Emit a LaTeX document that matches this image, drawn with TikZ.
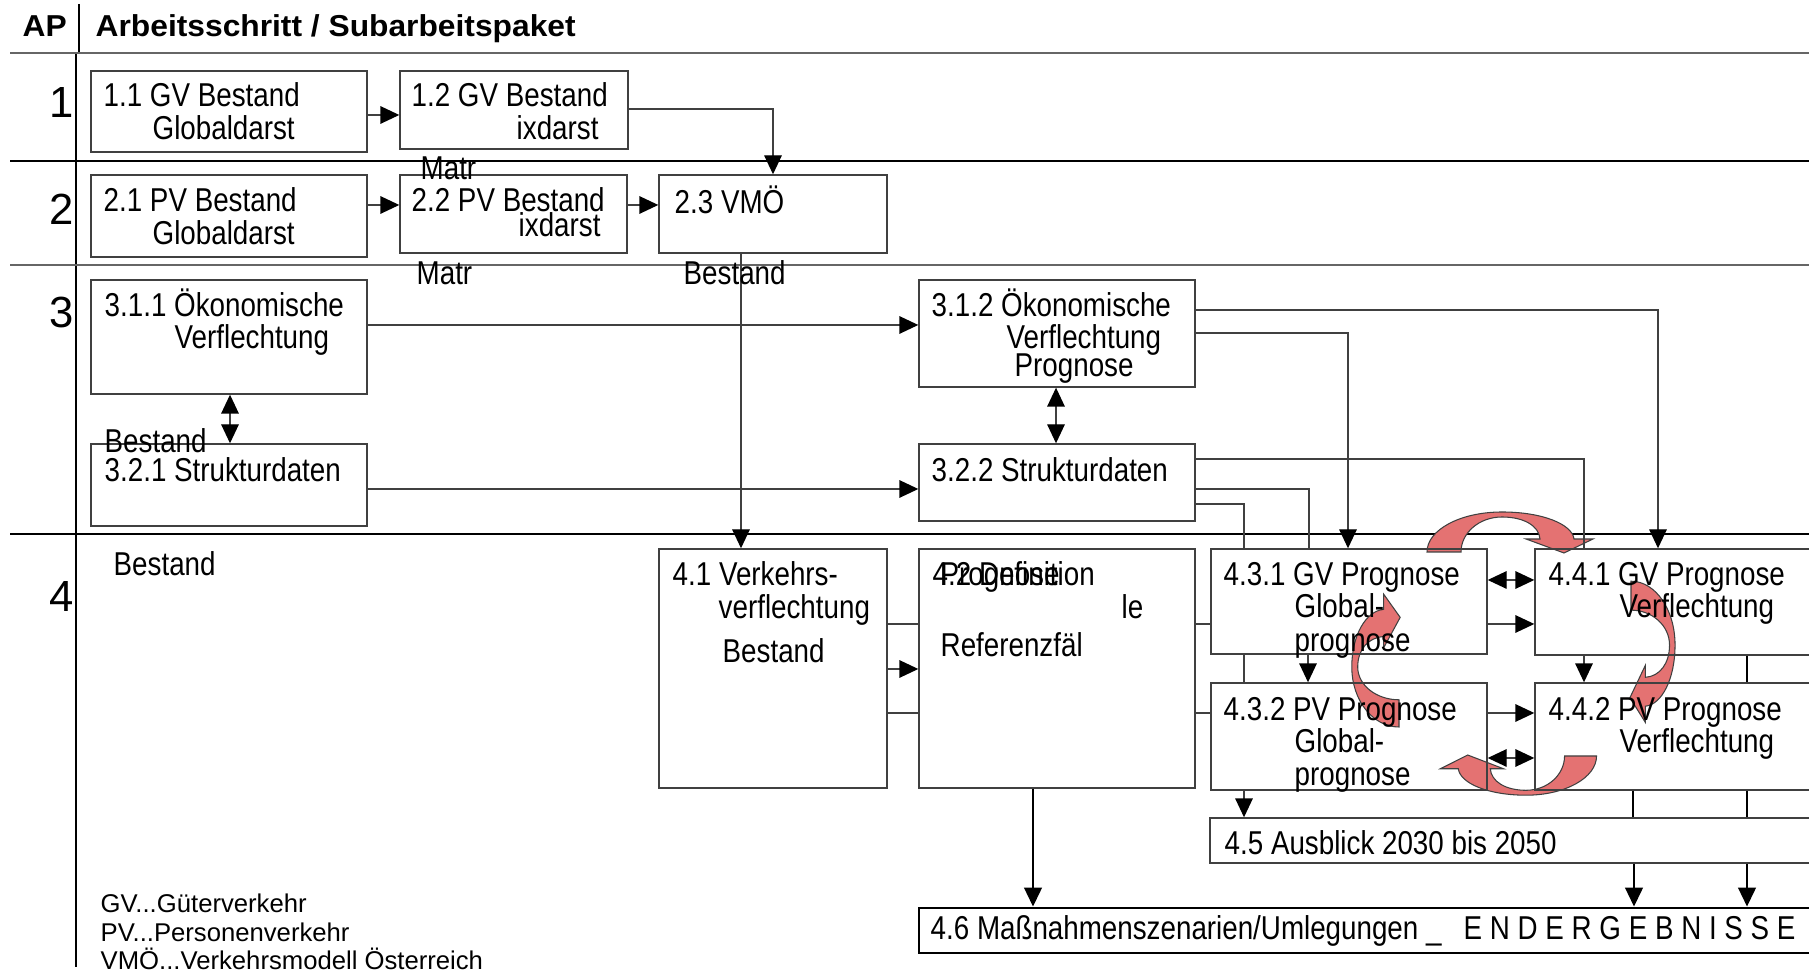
\documentclass[tikz,border=0pt]{standalone}
\usepackage{fontspec}
\setmainfont{Liberation Sans}
\newfontfamily\narrowfont[FakeStretch=0.84]{Liberation Sans}
\newfontfamily\headfont[FakeStretch=1.05]{Liberation Sans}
\usetikzlibrary{arrows.meta,fit}

\definecolor{cyclered}{RGB}{228,114,114}

\tikzstyle{box}=[draw=black!75,line width=0.4pt,inner sep=0pt]
\tikzstyle{endbox}=[box,draw=black,line width=0.8pt]
\tikzstyle{lbl}=[anchor=base west,inner sep=0pt,font=\narrowfont\fontsize{9.4}{10}\selectfont]
\tikzstyle{head}=[anchor=base west,inner sep=0pt,font=\headfont\bfseries\fontsize{8.6}{10}\selectfont]
\tikzstyle{num}=[anchor=base,inner sep=0pt,font=\fontsize{12.4}{14}\selectfont]
\tikzstyle{legend}=[anchor=base west,inner sep=0pt,font=\fontsize{7.3}{9}\selectfont]
\tikzstyle{rowline}=[draw=black,line width=0.4pt]
\tikzstyle{conn}=[draw=black!75,line width=0.4pt]
\tikzstyle{conn2}=[draw=black,line width=0.7pt]
\tikzstyle{arr}=[conn,-{Triangle[length=5.4pt,width=5pt,color=black]}]
\tikzstyle{arr2}=[conn2,-{Triangle[length=5.4pt,width=5pt,color=black]}]
\tikzstyle{darr}=[conn,{Triangle[length=5.4pt,width=5pt,color=black]}-{Triangle[length=5.4pt,width=5pt,color=black]}]

% one red curved arrow, tail left, head right pointing down
\newcommand{\cyclearrow}{%
  \filldraw[fill=cyclered,draw=black!75,line width=0.3pt]
    (-75,0) .. controls (-75,-22) and (-42,-40) .. (0,-40)
    .. controls (40,-40) and (70,-28) .. (72,-13)
    -- (91,-13) -- (62,1) -- (24,-13) -- (38,-13)
    .. controls (37,-26) and (22,-35) .. (0,-35)
    .. controls (-23,-35) and (-41,-19) .. (-41,0) -- cycle;}

\begin{document}
\begin{tikzpicture}[x=0.01cm,y=-0.01cm]
  \useasboundingbox (0,0) rectangle (1809,977);
  \clip (0,0) rectangle (1809,977);

  % table lines
  \draw[rowline] (79,4) -- (79,53);
  \draw[rowline] (76,53) -- (76,967);
  \draw[rowline,draw=black!60] (10,53) -- (1809,53);
  \draw[rowline] (10,161) -- (1809,161);
  \draw[rowline,draw=black!60] (10,265) -- (1809,265);
  \draw[rowline] (10,534) -- (1809,534);

  \node[head] (hAP) at (22,37) {AP};
  \node[head] (hAS) at (95,37) {Arbeitsschritt / Subarbeitspaket};
  \node[num] (n1) at (62,118) {1};
  \node[num] (n2) at (62,225) {2};
  \node[num] (n3) at (62,328) {3};
  \node[num] (n4) at (62,612) {4};

  % red cycle
  \coordinate (cT) at (1502,552);
  \coordinate (cR) at (1631,645);
  \coordinate (cB) at (1526,756);
  \coordinate (cL) at (1399,667);
  \begin{scope}[shift={(cT)}] \cyclearrow \end{scope}
  \begin{scope}[shift={(cR)},x={(0cm,-0.0085cm)},y={(-0.011cm,0cm)}] \cyclearrow \end{scope}
  \begin{scope}[shift={(cB)},x={(-0.0094cm,0cm)},y={(0cm,0.0098cm)}] \cyclearrow \end{scope}
  \begin{scope}[shift={(cL)},x={(0cm,0.008cm)},y={(0.0118cm,0cm)}] \cyclearrow \end{scope}

  % boxes
  \node[box,fit={(91,71) (367,152)}] (b11) {};
  \node[box,fit={(400,71) (628,149)}] (b12) {};
  \node[box,fit={(91,175) (367,257)}] (b21) {};
  \node[box,fit={(400,175) (627,253)}] (b22) {};
  \node[box,fit={(659,175) (887,253)}] (b23) {};
  \node[box,fit={(91,280) (367,394)}] (b311) {};
  \node[box,fit={(91,444) (367,526)}] (b321) {};
  \node[box,fit={(919,280) (1195,387)}] (b312) {};
  \node[box,fit={(919,444) (1195,521)}] (b322) {};
  \node[box,fit={(659,549) (887,788)}] (b41) {};
  \node[box,fit={(919,549) (1195,788)}] (b42) {};
  \node[box,fit={(1211,549) (1487,654)}] (b431) {};
  \node[box,fit={(1211,683) (1487,790)}] (b432) {};
  \node[box,fit={(1535,549) (1830,655)}] (b441) {};
  \node[box,fit={(1535,683) (1830,790)}] (b442) {};
  \node[box,fit={(1210,818) (1830,863)}] (b45) {};
  \node[endbox,fit={(919,908) (1830,953)}] (b46) {};

  % connectors
  \draw[arr] (b11.east |- 0,115) -- (b12.west |- 0,115);
  \draw[arr] (b12.east |- 0,109) -| (b23.north -| 773,0);
  \draw[arr] (b21.east |- 0,205) -- (b22.west |- 0,205);
  \draw[arr] (b22.east |- 0,205) -- (b23.west |- 0,205);
  \draw[arr] (b23.south -| 741,0) -- (b41.north -| 741,0);
  \draw[arr] (b311.east |- 0,325) -- (b312.west |- 0,325);
  \draw[arr] (b321.east |- 0,489) -- (b322.west |- 0,489);
  \draw[darr] (b311.south -| 230,0) -- (b321.north -| 230,0);
  \draw[darr] (b312.south -| 1056,0) -- (b322.north -| 1056,0);
  \draw[arr] (b312.east |- 0,310) -| (b441.north -| 1658,0);
  \draw[arr] (b312.east |- 0,333) -| (b431.north -| 1348,0);
  \draw[conn] (b322.east |- 0,459) -| (b441.north -| 1584,0);
  \draw[conn] (b322.east |- 0,489) -| (b431.north -| 1309,0);
  \draw[conn] (b322.east |- 0,504) -| (b431.north -| 1244,0);
  \draw[conn] (b41.east |- 0,624) -- (b42.west |- 0,624);
  \draw[arr] (b41.east |- 0,669) -- (b42.west |- 0,669);
  \draw[conn] (b41.east |- 0,713) -- (b42.west |- 0,713);
  \draw[conn] (b42.east |- 0,624) -- (b431.west |- 0,624);
  \draw[conn] (b42.east |- 0,713) -- (b432.west |- 0,713);
  \draw[darr] (b431.east |- 0,580) -- (b441.west |- 0,580);
  \draw[arr] (b431.east |- 0,624) -- (b441.west |- 0,624);
  \draw[arr] (b432.east |- 0,713) -- (b442.west |- 0,713);
  \draw[darr] (b432.east |- 0,758) -- (b442.west |- 0,758);
  \draw[arr] (b431.south -| 1308,0) -- (b432.north -| 1308,0);
  \draw[conn] (b431.south -| 1244,0) -- (b432.north -| 1244,0);
  \draw[arr] (b441.south -| 1584,0) -- (b442.north -| 1584,0);
  \draw[conn2] (b441.south -| 1747,0) -- (b442.north -| 1747,0);
  \draw[arr] (b432.south -| 1244,0) -- (b45.north -| 1244,0);
  \draw[conn2] (b442.south -| 1633,0) -- (b45.north -| 1633,0);
  \draw[conn2] (b442.south -| 1747,0) -- (b45.north -| 1747,0);
  \draw[arr2] (b45.south -| 1634,0) -- (b46.north -| 1634,0);
  \draw[arr2] (b45.south -| 1747,0) -- (b46.north -| 1747,0);
  \draw[arr2] (b42.south -| 1033,0) -- (b46.north -| 1033,0);

  % texts
  \node[lbl] (t11a) at (103,107) {1.1 GV Bestand};
  \node[lbl] (t11b) at (152,140) {Globaldarst};
  \node[lbl] (t12a) at (411,107) {1.2 GV Bestand};
  \node[lbl] (t12b) at (516,140) {ixdarst};
  \node[lbl] (t12c) at (420,180) {Matr};
  \node[lbl] (t21a) at (103,212) {2.1 PV Bestand};
  \node[lbl] (t21b) at (152,245) {Globaldarst};
  \node[lbl] (t22a) at (411,212) {2.2 PV Bestand};
  \node[lbl] (t22b) at (518,237) {ixdarst};
  \node[lbl] (t22c) at (416,285) {Matr};
  \node[lbl] (t23a) at (674,214) {2.3 VMÖ};
  \node[lbl] (t23b) at (683,285) {Bestand};
  \node[lbl] (t311a) at (104,317) {3.1.1 Ökonomische};
  \node[lbl] (t311b) at (174,349) {Verflechtung};
  \node[lbl] (t311c) at (104,453) {Bestand};
  \node[lbl] (t321a) at (104,482) {3.2.1 Strukturdaten};
  \node[lbl] (t312a) at (931,317) {3.1.2 Ökonomische};
  \node[lbl] (t312b) at (1006,349) {Verflechtung};
  \node[lbl] (t312c) at (1014,377) {Prognose};
  \node[lbl] (t322a) at (931,482) {3.2.2 Strukturdaten};
  \node[lbl] (t4a) at (113,576) {Bestand};
  \node[lbl] (t41a) at (672,586) {4.1 Verkehrs-};
  \node[lbl] (t41b) at (718,619) {verflechtung};
  \node[lbl] (t41c) at (722,663) {Bestand};
  \node[lbl] (t42a) at (932,586) {4.2 Definition};
  \node[lbl] (t42b) at (940,586) {Prognose};
  \node[lbl] (t42c) at (1121,619) {le};
  \node[lbl] (t42d) at (940,657) {Referenzfäl};
  \node[lbl] (t431a) at (1223,586) {4.3.1 GV Prognose};
  \node[lbl] (t431b) at (1294,618) {Global-};
  \node[lbl] (t431c) at (1294,652) {prognose};
  \node[lbl] (t432a) at (1223,721) {4.3.2 PV Prognose};
  \node[lbl] (t432b) at (1294,753) {Global-};
  \node[lbl] (t432c) at (1294,786) {prognose};
  \node[lbl] (t441a) at (1548,586) {4.4.1 GV Prognose};
  \node[lbl] (t441b) at (1619,618) {Verflechtung};
  \node[lbl] (t442a) at (1548,721) {4.4.2 PV Prognose};
  \node[lbl] (t442b) at (1619,753) {Verflechtung};
  \node[lbl] (t45) at (1224,855) {4.5 Ausblick 2030 bis 2050};
  \node[lbl] (t46a) at (930,940) {4.6 Maßnahmenszenarien/Umlegungen \_};
  \node[lbl] (t46b) at (1463,940) {E N D E R G E B N I S S E};

  % legend
  \node[legend] (lgv) at (100,913) {GV...Güterverkehr};
  \node[legend] (lpv) at (100,942) {PV...Personenverkehr};
  \node[legend] (lvm) at (100,970) {VMÖ...Verkehrsmodell Österreich};
\end{tikzpicture}
\end{document}
